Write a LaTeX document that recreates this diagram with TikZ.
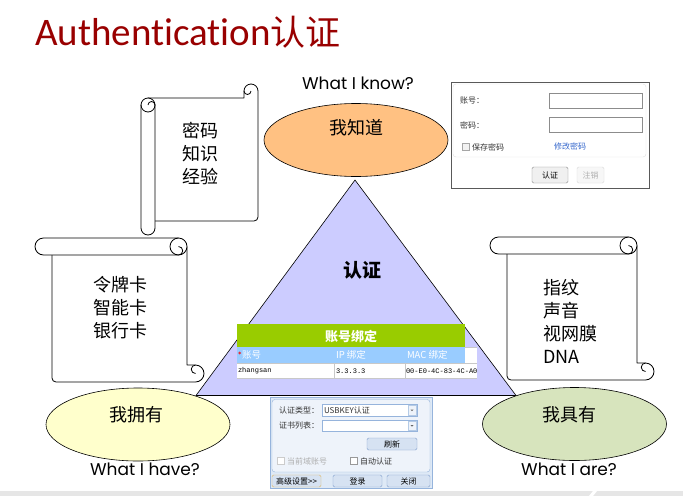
\documentclass[tikz,border=0pt]{standalone}
\usepackage{fontspec}
\setmainfont{Carlito}[Ligatures=NoCommon]
\newfontfamily\cjk{Noto Sans CJK SC}
\newfontfamily\gothic{Poppins}
\newfontfamily\mono{Liberation Mono}
\usetikzlibrary{shapes.geometric}

\definecolor{titlered}{RGB}{153,0,0}
\definecolor{triblue}{RGB}{204,204,255}
\definecolor{knoworange}{RGB}{255,193,130}
\definecolor{haveyellow}{RGB}{255,255,204}
\definecolor{aregreen}{RGB}{215,228,189}
\definecolor{bindgreen}{RGB}{153,204,0}
\definecolor{bindblue}{RGB}{153,204,255}
\definecolor{gridgrey}{RGB}{200,200,200}
\definecolor{linkblue}{RGB}{51,102,204}
\definecolor{panelbg}{RGB}{222,233,246}
\definecolor{panelin}{RGB}{238,243,250}
\definecolor{panelline}{RGB}{150,180,220}
\definecolor{btnfill}{RGB}{214,226,242}
\definecolor{btnline}{RGB}{130,160,205}
\definecolor{goldline}{RGB}{225,185,100}
\definecolor{greytext}{RGB}{175,175,175}
\definecolor{barfill}{RGB}{230,230,230}

% Paper scroll: roll across the top, sheet below, curled end at lower right.
% #1 left end of roll, #2 top, #3 right edge of sheet, #4 bottom, #5 roll thickness
\newcommand{\scrollshape}[5]{%
  \pgfmathsetmacro{\sL}{#1}\pgfmathsetmacro{\sT}{#2}%
  \pgfmathsetmacro{\sR}{#3}\pgfmathsetmacro{\sB}{#4}%
  \pgfmathsetmacro{\sh}{#5}\pgfmathsetmacro{\sr}{#5/2}\pgfmathsetmacro{\sq}{#5/4}%
  \path[scrollline,fill=white] (\sL+\sh,\sT+\sr) -- (\sL+\sh,\sB-4)
     arc[start angle=180,end angle=90,radius=4]
     -- (\sR+\sr,\sB) arc[start angle=90,end angle=-90,radius=\sr]
     -- (\sR,\sB-\sh) -- (\sR,\sT+\sr);
  \draw[scrollline] (\sR+\sr,\sB-\sh) arc[start angle=270,end angle=90,radius=\sq];
  \path[scrollline,fill=white] (\sL+\sr,\sT+\sh) arc[start angle=90,end angle=270,radius=\sr]
     -- (\sR-\sr,\sT) arc[start angle=-90,end angle=90,radius=\sr] -- cycle;
  \draw[scrollline] (\sR-\sr,\sT+\sh) arc[start angle=90,end angle=270,radius=\sr];
  \draw[scrollline] (\sR-\sr,\sT+\sh) arc[start angle=90,end angle=-90,radius=\sq];
}

\begin{document}
\begin{tikzpicture}[x=1pt,y=-1pt,
  scrollline/.style={draw=black,line width=0.8pt,line join=round},
  txt/.style={inner sep=0pt,outer sep=0pt},
  listtext/.style={txt,font=\cjk\fontsize{18}{23}\selectfont},
  question/.style={txt,font=\gothic\fontsize{17}{20}\selectfont},
  bubble/.style={ellipse,draw=black,line width=0.6pt,minimum width=184pt,minimum height=73pt,inner sep=0pt},
  bubbletext/.style={txt,font=\cjk\fontsize{18}{20}\selectfont},
  ui/.style={txt,font=\cjk\fontsize{8}{9}\selectfont,text=black!80},
  uibtn/.style={draw=btnline,fill=btnfill,rounded corners=1.5pt,inner sep=0pt,font=\cjk\fontsize{8}{9}\selectfont},
  cell/.style={txt,font=\cjk\fontsize{9.5}{10}\selectfont,text=white,anchor=west},
  data/.style={txt,font=\mono\fontsize{7}{8}\selectfont,anchor=west}
]
\useasboundingbox (0,0) rectangle (683,496);
\fill[white] (0,0) rectangle (683,496);

% footer band
\fill[barfill] (0,491) rectangle (683,496);
\fill[white] (589,496) -- (593,491) -- (597,491) -- (593,496) -- cycle;

% heading
\node[txt,anchor=base west,text=titlered] (title) at (35,45)
  {\fontsize{39}{40}\selectfont Authentication{\cjk\fontsize{35}{40}\selectfont 认证}};

% three scrolls
\begin{scope}[rotate=90]
  \scrollshape{-235}{141}{-98}{258}{14}
\end{scope}
\scrollshape{35}{238}{187}{382}{17}
\scrollshape{490}{237}{637}{380}{17}

\node[listtext,align=center] (knowlist) at (200,153) {密码\\知识\\经验};
\node[listtext,align=center] (havelist) at (120,308) {令牌卡\\智能卡\\银行卡};
\node[listtext,align=left,anchor=west] (arelist) at (543,321) {指纹\\声音\\视网膜\\DNA};

% central triangle
\coordinate (apex) at (355,180);
\coordinate (baseL) at (196,395.5);
\coordinate (baseR) at (516,395.5);
\draw[fill=triblue,draw=black,line width=0.6pt] (apex) -- (baseL) -- (baseR) -- cycle;
\node[txt,font=\cjk\bfseries\fontsize{19}{20}\selectfont] (auth) at (362,270) {认证};

% three factors
\node[bubble,fill=knoworange] (know) at (356,140) {};
\node[bubble,fill=haveyellow] (have) at (138,424.5) {};
\node[bubble,fill=aregreen] (are) at (574.5,424) {};
\node[bubbletext] (knowtext) at (356,128) {我知道};
\node[bubbletext] (havetext) at (136,415) {我拥有};
\node[bubbletext] (aretext) at (569,415) {我具有};
\node[question] (knowq) at (358,83) {What I know?};
\node[question] (haveq) at (145,469) {What I have?};
\node[question] (areq) at (569,469) {What I are?};

% password login form
\draw[draw=black!65,fill=white,line width=0.8pt] (451,82) rectangle (649,188);
\draw[draw=black!12,rounded corners=3pt] (453,84) rectangle (646,157);
\node[ui,anchor=west] (userlbl) at (460,101) {账号：};
\node[ui,anchor=west] (pwdlbl) at (460,125) {密码：};
\draw[draw=black!45,fill=white] (549,93) rectangle (642,108);
\draw[draw=black!45,fill=white] (549,117) rectangle (642,132);
\draw[draw=black!35,fill=black!5] (462,143) rectangle (469,150);
\node[ui,anchor=west] (savepwd) at (472,147) {保存密码};
\node[ui,anchor=west,text=linkblue] (changepwd) at (554,146) {修改密码};
\node[uibtn,draw=black!45,fill=black!6,minimum width=36pt,minimum height=16pt] (okbtn) at (550,175) {认证};
\node[uibtn,draw=black!15,fill=black!3,text=greytext,minimum width=27pt,minimum height=16pt] (logoutbtn) at (590.5,175) {注销};

% account binding table
\fill[bindgreen] (237,324) rectangle (465,347);
\node[txt,font=\cjk\bfseries\fontsize{13}{14}\selectfont,text=white] (bindtitle) at (351,336) {账号绑定};
\fill[bindblue] (237,347) rectangle (465,363);
\fill[white] (465,347) rectangle (477,378);
\fill[white] (237,363) rectangle (477,378);
\draw[gridgrey,line width=0.5pt] (237,363) -- (477,363) (237,378) -- (477,378)
  (334,363) -- (334,378) (405,363) -- (405,378) (465,347) -- (477,347);
\node[txt,anchor=west,text=red,font=\bfseries\fontsize{9}{9}\selectfont] (star) at (237.5,355) {*};
\node[cell] (colacct) at (242,355) {账号};
\node[cell] (colip) at (336,355) {IP 绑定};
\node[cell] (colmac) at (407,355) {MAC 绑定};
\node[data] (rowuser) at (238,371) {zhangsan};
\node[data] (rowip) at (336,371) {3.3.3.3};
\node[data] (rowmac) at (406,371) {00-E0-4C-83-4C-A0};

% USB key login dialog
\draw[fill=panelbg,draw=panelline] (270,397) rectangle (432,488);
\draw[fill=panelin,draw=panelline,rounded corners=3pt] (272,399.5) rectangle (430,472);
\node[ui,anchor=west] (typelbl) at (279,410) {认证类型：};
\node[ui,anchor=west] (certlbl) at (279,425) {证书列表：};
\draw[draw=panelline,fill=white] (322,404) rectangle (417,416);
\draw[draw=panelline!70,fill=panelin] (408,405) rectangle (416,415);
\fill[black!60] (410.5,409.5) -- (413.5,409.5) -- (412,411) -- cycle;
\node[ui,anchor=west] (typeval) at (324,410) {USBKEY认证};
\draw[draw=panelline,fill=white] (322,420) rectangle (417,431);
\draw[draw=panelline!70,fill=panelin] (408,421) rectangle (416,430);
\fill[black!60] (410.5,425) -- (413.5,425) -- (412,426.5) -- cycle;
\node[uibtn,minimum width=50pt,minimum height=12pt] (refresh) at (392,444) {刷新};
\draw[draw=black!20,fill=white] (277,457) rectangle (284,464);
\node[ui,anchor=west,text=greytext] (domainacct) at (287,461) {当前域账号};
\draw[draw=black!40,fill=white] (350,457) rectangle (357,464);
\node[ui,anchor=west] (autoauth) at (360,461) {自动认证};
\node[uibtn,draw=goldline,minimum width=49pt,minimum height=12pt] (advbtn) at (296.5,481) {高级设置>>};
\node[uibtn,minimum width=49pt,minimum height=12pt] (loginbtn) at (357.5,481) {登录};
\node[uibtn,minimum width=43pt,minimum height=12pt] (closebtn) at (408.5,481) {关闭};
\end{tikzpicture}
\end{document}
